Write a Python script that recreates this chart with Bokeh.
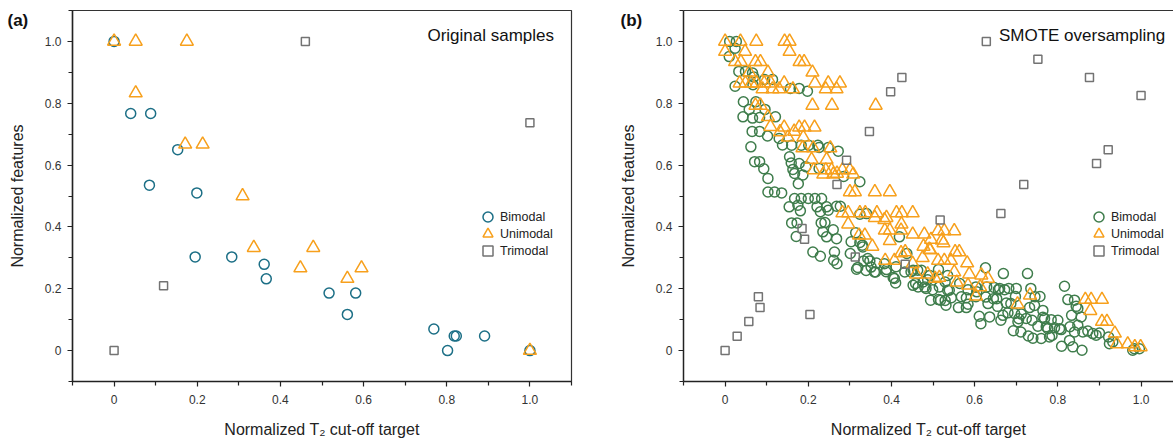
from bokeh.plotting import figure
from bokeh.models import FixedTicker, LinearAxis, Label, Legend, LegendItem, Title
from bokeh.layouts import row
from bokeh.embed import file_html
from bokeh.resources import INLINE

# ---------------- data ----------------
# (a) original samples
ORIG_BI_X = [0, 0.040, 0.088, 0.153, 0.085, 0.199, 0.195, 0.283, 0.361, 0.366, 0.517, 0.581, 0.561, 0.769, 0.818, 0.823, 0.891, 0.802, 1.0]
ORIG_BI_Y = [1.0, 0.767, 0.767, 0.650, 0.535, 0.510, 0.303, 0.303, 0.279, 0.232, 0.186, 0.186, 0.117, 0.070, 0.047, 0.047, 0.047, 0.0, 0.0]
ORIG_UNI_X = [0, 0.052, 0.175, 0.052, 0.171, 0.213, 0.309, 0.336, 0.479, 0.448, 0.595, 0.561, 1.0]
ORIG_UNI_Y = [1.0, 1.0, 1.0, 0.833, 0.667, 0.667, 0.5, 0.333, 0.333, 0.267, 0.267, 0.233, 0.0]
ORIG_TRI_X = [0, 0.119, 0.460, 1.0]
ORIG_TRI_Y = [0, 0.210, 1.0, 0.737]

# (b) SMOTE oversampling
SM_BI_X = [0.011, 0.027, 0.024, 0.010, 0.033, 0.049, 0.066, 0.069, 0.095, 0.114,
           0.024, 0.067, 0.157, 0.178, 0.198, 0.044, 0.058, 0.074, 0.096, 0.043,
           0.066, 0.083, 0.121, 0.065, 0.083, 0.102, 0.130, 0.062, 0.138, 0.160,
           0.183, 0.201, 0.223, 0.226, 0.248, 0.272, 0.071, 0.083, 0.093, 0.103,
           0.159, 0.178, 0.194, 0.163, 0.167, 0.187, 0.226, 0.285, 0.324, 0.176,
           0.155, 0.103, 0.119, 0.136, 0.167, 0.183, 0.200, 0.216, 0.232, 0.154,
           0.175, 0.221, 0.244, 0.268, 0.277, 0.181, 0.229, 0.248, 0.160, 0.173,
           0.231, 0.240, 0.235, 0.260, 0.171, 0.244, 0.268, 0.211, 0.229, 0.263,
           0.261, 0.269, 0.303, 0.301, 0.314, 0.324, 0.340, 0.330, 0.324, 0.319,
           0.333, 0.339, 0.348, 0.351, 0.359, 0.316, 0.364, 0.362, 0.388, 0.404,
           0.410, 0.432, 0.331, 0.343, 0.383, 0.387, 0.407, 0.411, 0.419, 0.437,
           0.447, 0.452, 0.452, 0.458, 0.463, 0.464, 0.472, 0.476, 0.480, 0.483,
           0.487, 0.492, 0.494, 0.499, 0.513, 0.513, 0.515, 0.518, 0.529, 0.529,
           0.531, 0.535, 0.535, 0.539, 0.544, 0.561, 0.564, 0.568, 0.580, 0.580,
           0.584, 0.584, 0.603, 0.603, 0.605, 0.611, 0.615, 0.626, 0.627, 0.629,
           0.632, 0.636, 0.645, 0.647, 0.653, 0.655, 0.657, 0.660, 0.663, 0.668,
           0.669, 0.672, 0.676, 0.680, 0.682, 0.687, 0.693, 0.696, 0.698, 0.700,
           0.704, 0.706, 0.711, 0.712, 0.724, 0.727, 0.729, 0.732, 0.735, 0.738,
           0.740, 0.744, 0.745, 0.752, 0.757, 0.760, 0.764, 0.764, 0.768, 0.772,
           0.776, 0.780, 0.784, 0.786, 0.792, 0.800, 0.804, 0.808, 0.809, 0.816,
           0.824, 0.828, 0.829, 0.833, 0.836, 0.840, 0.840, 0.844, 0.848, 0.848,
           0.856, 0.858, 0.860, 0.872, 0.884, 0.892, 0.900, 0.922, 0.924, 0.932,
           0.980, 0.984, 0.996]
SM_BI_Y = [1.0, 1.0, 0.978, 0.951, 0.903, 0.903, 0.898, 0.885, 0.877, 0.877,
           0.855, 0.860, 0.848, 0.848, 0.839, 0.805, 0.780, 0.805, 0.780, 0.756,
           0.752, 0.754, 0.756, 0.709, 0.709, 0.694, 0.686, 0.659, 0.665, 0.664,
           0.664, 0.664, 0.664, 0.657, 0.657, 0.645, 0.611, 0.611, 0.588, 0.557,
           0.607, 0.605, 0.595, 0.586, 0.573, 0.568, 0.589, 0.563, 0.546, 0.540,
           0.627, 0.513, 0.513, 0.510, 0.492, 0.492, 0.492, 0.492, 0.492, 0.465,
           0.470, 0.465, 0.465, 0.467, 0.467, 0.452, 0.449, 0.454, 0.413, 0.413,
           0.413, 0.414, 0.384, 0.391, 0.369, 0.368, 0.362, 0.319, 0.305, 0.319,
           0.292, 0.281, 0.352, 0.314, 0.381, 0.441, 0.443, 0.341, 0.350, 0.269,
           0.290, 0.259, 0.290, 0.270, 0.254, 0.263, 0.283, 0.254, 0.262, 0.236,
           0.219, 0.254, 0.335, 0.298, 0.281, 0.255, 0.233, 0.271, 0.368, 0.314,
           0.255, 0.260, 0.211, 0.217, 0.260, 0.206, 0.260, 0.222, 0.206, 0.201,
           0.229, 0.243, 0.163, 0.197, 0.165, 0.262, 0.206, 0.163, 0.162, 0.222,
           0.147, 0.195, 0.243, 0.195, 0.171, 0.139, 0.217, 0.174, 0.139, 0.171,
           0.150, 0.197, 0.206, 0.174, 0.190, 0.111, 0.087, 0.268, 0.173, 0.206,
           0.152, 0.109, 0.168, 0.204, 0.168, 0.143, 0.197, 0.201, 0.098, 0.114,
           0.249, 0.197, 0.154, 0.122, 0.201, 0.152, 0.064, 0.120, 0.175, 0.201,
           0.093, 0.103, 0.060, 0.118, 0.104, 0.249, 0.047, 0.139, 0.201, 0.098,
           0.040, 0.146, 0.174, 0.079, 0.175, 0.039, 0.108, 0.130, 0.104, 0.077,
           0.071, 0.044, 0.100, 0.049, 0.074, 0.098, 0.071, 0.068, 0.014, 0.208,
           0.165, 0.033, 0.077, 0.114, 0.012, 0.060, 0.163, 0.143, 0.082, 0.136,
           0.109, 0.001, 0.060, 0.063, 0.055, 0.050, 0.057, 0.044, 0.022, 0.028,
           0.001, 0.006, 0.006]

SM_UNI_X = [0.0, 0.037, 0.075, 0.143, 0.155, 0.0, 0.048, 0.155, 0.024, 0.038,
            0.073, 0.085, 0.179, 0.190, 0.058, 0.103, 0.210, 0.035, 0.049, 0.063,
            0.076, 0.094, 0.110, 0.142, 0.216, 0.248, 0.276, 0.090, 0.114, 0.130,
            0.163, 0.242, 0.268, 0.073, 0.085, 0.210, 0.257, 0.362, 0.103, 0.109,
            0.142, 0.178, 0.191, 0.215, 0.132, 0.166, 0.151, 0.188, 0.186, 0.212,
            0.253, 0.208, 0.244, 0.213, 0.242, 0.256, 0.282, 0.300, 0.236, 0.260,
            0.269, 0.308, 0.300, 0.312, 0.360, 0.396, 0.282, 0.296, 0.324, 0.337,
            0.365, 0.412, 0.425, 0.451, 0.360, 0.388, 0.383, 0.296, 0.424, 0.384,
            0.396, 0.423, 0.512, 0.527, 0.551, 0.322, 0.336, 0.451, 0.479, 0.396,
            0.495, 0.521, 0.525, 0.354, 0.477, 0.491, 0.423, 0.433, 0.493, 0.553,
            0.563, 0.385, 0.407, 0.451, 0.475, 0.512, 0.527, 0.543, 0.582, 0.459,
            0.487, 0.505, 0.515, 0.551, 0.587, 0.616, 0.632, 0.557, 0.584, 0.613,
            0.603, 0.733, 0.703, 0.866, 0.880, 0.906, 0.878, 0.906, 0.918, 0.937,
            0.942, 0.968, 0.985, 0.999]
SM_UNI_Y = [1.0, 1.0, 1.0, 1.0, 1.0, 0.967, 0.967, 0.967, 0.934, 0.934,
            0.934, 0.934, 0.934, 0.934, 0.900, 0.900, 0.900, 0.865, 0.865, 0.865,
            0.865, 0.865, 0.865, 0.865, 0.865, 0.865, 0.865, 0.846, 0.846, 0.846,
            0.846, 0.846, 0.846, 0.793, 0.793, 0.793, 0.793, 0.793, 0.756, 0.724,
            0.722, 0.722, 0.722, 0.722, 0.707, 0.709, 0.690, 0.690, 0.655, 0.655,
            0.655, 0.618, 0.618, 0.584, 0.584, 0.584, 0.584, 0.584, 0.570, 0.570,
            0.573, 0.570, 0.513, 0.513, 0.513, 0.513, 0.445, 0.445, 0.445, 0.445,
            0.445, 0.445, 0.445, 0.445, 0.430, 0.430, 0.423, 0.409, 0.409, 0.389,
            0.389, 0.389, 0.387, 0.387, 0.387, 0.373, 0.373, 0.376, 0.376, 0.355,
            0.359, 0.357, 0.348, 0.337, 0.337, 0.327, 0.316, 0.319, 0.325, 0.319,
            0.319, 0.291, 0.291, 0.281, 0.300, 0.291, 0.291, 0.291, 0.283, 0.247,
            0.247, 0.233, 0.236, 0.254, 0.247, 0.244, 0.233, 0.221, 0.211, 0.206,
            0.176, 0.179, 0.150, 0.165, 0.165, 0.165, 0.129, 0.094, 0.094, 0.056,
            0.021, 0.021, 0.012, 0.012]

SM_TRI_X = [0, 0.029, 0.057, 0.084, 0.080, 0.204, 0.185, 0.191, 0.313, 0.269, 0.292, 0.347,
            0.398, 0.425, 0.433, 0.517, 0.628, 0.663, 0.718, 0.752, 0.876, 0.893, 0.921, 1.0]
SM_TRI_Y = [0, 0.046, 0.094, 0.139, 0.174, 0.117, 0.395, 0.360, 0.303, 0.537, 0.616, 0.709,
            0.837, 0.883, 0.279, 0.422, 1.0, 0.443, 0.537, 0.942, 0.883, 0.605, 0.650, 0.825]

TICKS = [0, 0.2, 0.4, 0.6, 0.8, 1.0]
TICK_LABELS = ["0", "0.2", "0.4", "0.6", "0.8", "1.0"]
MINOR = [-0.1, 0.1, 0.3, 0.5, 0.7, 0.9, 1.1]
SERIES = ["Bimodal", "Unimodal", "Trimodal"]

FONT = "Liberation Sans"
ORANGE = "#f7a01c"
GRAY = "#737373"


def style_axis(ax):
    ax.ticker = FixedTicker(ticks=TICKS, minor_ticks=MINOR)
    ax.major_label_overrides = {t: l for t, l in zip(TICKS, TICK_LABELS)}
    ax.axis_line_color = "#222222"
    ax.axis_line_width = 1.5
    ax.major_tick_line_color = "#222222"
    ax.minor_tick_line_color = "#222222"
    ax.major_tick_line_width = 1.2
    ax.minor_tick_line_width = 1.2
    ax.major_tick_in = 0
    ax.major_tick_out = 5
    ax.minor_tick_in = 0
    ax.minor_tick_out = 4
    ax.major_label_text_font = FONT
    ax.major_label_text_font_size = "12px"
    ax.major_label_text_color = "#333333"
    ax.axis_label_text_font = FONT
    ax.axis_label_text_font_size = "16px"
    ax.axis_label_text_font_style = "normal"
    ax.axis_label_text_color = "#222222"


def make_panel(width, left, right, xend, bi_x, bi_y, bi_color, uni_x, uni_y, tri_x, tri_y,
               title, tag, tag_offset, outline):
    p = figure(width=width, height=440, x_range=(-0.1, xend), y_range=(-0.1, 1.1),
               output_backend="svg", toolbar_location=None,
               min_border_left=left, min_border_right=right,
               min_border_top=10, min_border_bottom=58)
    p.xgrid.visible = False
    p.ygrid.visible = False
    p.background_fill_color = "white"
    p.border_fill_color = "white"
    xax = p.below[0]
    yax = p.left[0]
    if outline:
        p.outline_line_color = "#333333"
        p.outline_line_width = 1.2
    else:
        p.outline_line_color = None
        top = LinearAxis(major_tick_out=0, major_tick_in=0, minor_tick_out=0, minor_tick_in=0,
                         major_label_text_font_size="0px", axis_line_color="#333333",
                         axis_line_width=1.2, major_label_standoff=0,
                         ticker=FixedTicker(ticks=[], minor_ticks=[]))
        p.add_layout(top, "above")

    # panel tag "(a)"/"(b)" drawn as a title in the top border, shifted left of the frame
    p.add_layout(Title(text=tag, align="left", offset=tag_offset, standoff=-38,
                       vertical_align="bottom", text_font=FONT, text_font_size="17px",
                       text_font_style="bold", text_color="#111111"), "above")

    r_bi = p.scatter(bi_x, bi_y, marker="circle", size=10, fill_color=None,
                     line_color=bi_color, line_width=1.5)
    r_uni = p.scatter(uni_x, uni_y, marker="triangle", size=13, fill_color=None,
                      line_color=ORANGE, line_width=1.5)
    r_tri = p.scatter(tri_x, tri_y, marker="square", size=8, fill_color=None,
                      line_color=GRAY, line_width=1.5)

    style_axis(xax)
    style_axis(yax)
    xax.axis_label = "Normalized T\u2082 cut-off target"
    yax.axis_label = "Normalized features"
    xax.major_label_standoff = 8
    yax.major_label_standoff = 6
    xax.axis_label_standoff = 14
    yax.axis_label_standoff = 16

    # one single-item legend per row, to get 17px row pitch with large glyphs
    for i, (name, r) in enumerate(zip(SERIES, [r_bi, r_uni, r_tri])):
        lg = Legend(items=[LegendItem(label=name, renderers=[r])],
                    location=(403, 152 - 17 * i))
        lg.border_line_color = None
        lg.background_fill_alpha = 0
        lg.padding = 0
        lg.margin = 0
        lg.spacing = 0
        lg.glyph_width = 25
        lg.glyph_height = 25
        lg.label_height = 17
        lg.label_standoff = 0
        lg.label_text_font = FONT
        lg.label_text_font_size = "12.5px"
        lg.label_text_color = "#222222"
        p.add_layout(lg, "center")

    p.add_layout(Label(x=1.058, y=1.018, text=title,
                       text_align="right", text_baseline="alphabetic",
                       text_font=FONT, text_font_size="17px", text_color="#111111"))
    return p


p1 = make_panel(600, 72, 29, 1.1, ORIG_BI_X, ORIG_BI_Y, "#1c6f86",
                ORIG_UNI_X, ORIG_UNI_Y, ORIG_TRI_X, ORIG_TRI_Y,
                "Original samples", "(a)", -65, True)
p2 = make_panel(573, 83, 0, 1.078, SM_BI_X, SM_BI_Y, "#3f7d4c",
                SM_UNI_X, SM_UNI_Y, SM_TRI_X, SM_TRI_Y,
                "SMOTE oversampling", "(b)", -63, False)

layout = row(p1, p2)
open("out.html", "w").write(file_html(layout, INLINE))
